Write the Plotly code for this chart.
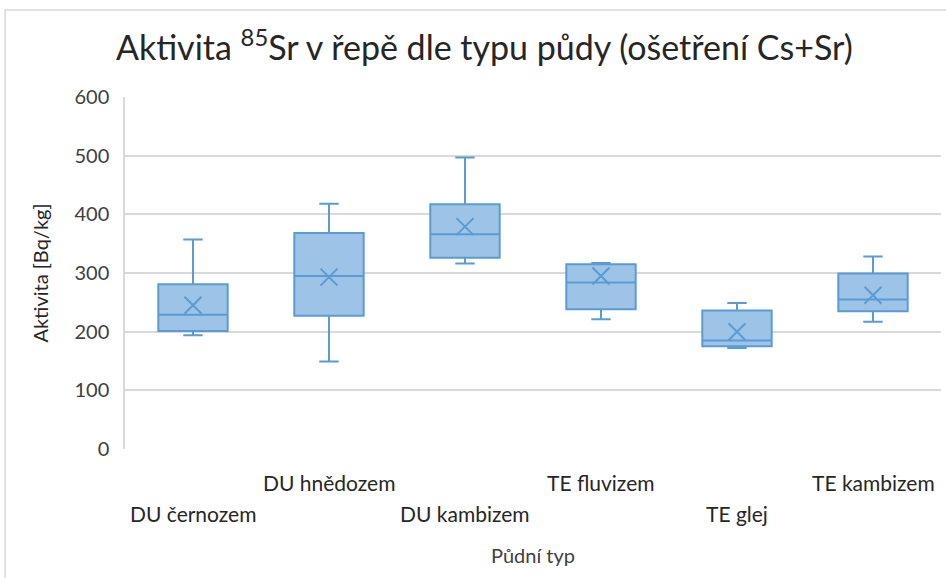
import plotly.graph_objects as go

# hodnoty (Bq/kg)
pudni_typ = ["DU černozem", "DU hnědozem", "DU kambizem", "TE fluvizem", "TE glej", "TE kambizem"]
dolni = [194, 149, 316, 221, 172, 217]
q1 = [201, 227, 326, 238, 175, 235]
median = [229, 295, 366, 284, 185, 255]
q3 = [281, 368, 417, 315, 236, 299]
horni = [357, 418, 497, 317, 249, 328]
prumer = [245, 293, 379, 295, 200, 262]

FONT = "Lato"
LINE = "#5b9bd5"
FILL = "#9dc3e6"
GRID = "#d9d9d9"

pos = list(range(len(pudni_typ)))

fig = go.Figure()
fig.add_trace(go.Box(
    x=pos, q1=q1, median=median, q3=q3, lowerfence=dolni, upperfence=horni,
    fillcolor=FILL, line=dict(color=LINE, width=2), width=0.51,
    whiskerwidth=0.28, boxpoints=False, hoverinfo="skip", showlegend=False,
))
fig.add_trace(go.Scatter(
    x=pos, y=prumer, mode="markers", showlegend=False,
    marker=dict(symbol="x-thin", size=17, line=dict(color=LINE, width=2)),
))

# popisky kategorií ve dvou řadách jako v Excelu
for i, name in enumerate(pudni_typ):
    fig.add_annotation(x=i, xref="x", y=-0.095 if i % 2 else -0.183, yref="paper",
                       text=name, showarrow=False, yanchor="middle",
                       font=dict(family=FONT, size=21, color="#262626"))

fig.add_annotation(x=0.5, xref="paper", y=-0.3, yref="paper", text="Půdní typ",
                   showarrow=False, yanchor="middle",
                   font=dict(family=FONT, size=20, color="#404040"))

# rámeček oblasti grafu
fig.add_shape(type="rect", xref="paper", yref="paper", x0=-0.147, x1=1.2, y0=-0.5, y1=1.247,
              line=dict(color=GRID, width=1.5), layer="above")

fig.update_layout(
    width=946, height=578,
    margin=dict(l=125, r=5, t=97, b=129),
    paper_bgcolor="white", plot_bgcolor="white",
    title=dict(text="Aktivita <sup>85</sup>Sr v řepě dle typu půdy (ošetření Cs+Sr)",
               x=0.512, xanchor="center", y=0.917, yanchor="middle",
               font=dict(family=FONT, size=34, color="#262626")),
    font=dict(family=FONT, color="#404040"),
)
fig.update_xaxes(range=[-0.5, 5.5], showticklabels=False, showgrid=False, zeroline=False,
                 showline=False, ticks="")
fig.update_yaxes(range=[0, 600], dtick=100, showgrid=True, gridcolor=GRID, gridwidth=1.5,
                 zeroline=False, showline=True, linecolor=GRID, linewidth=1.5, ticks="",
                 tickfont=dict(family=FONT, size=20, color="#404040"), ticklabelstandoff=10,
                 title=dict(text="Aktivita [Bq/kg]", standoff=20,
                            font=dict(family=FONT, size=20, color="#262626")))

fig.write_html("out.html", config={"displayModeBar": False},
               post_script="document.body.style.margin='0';")
